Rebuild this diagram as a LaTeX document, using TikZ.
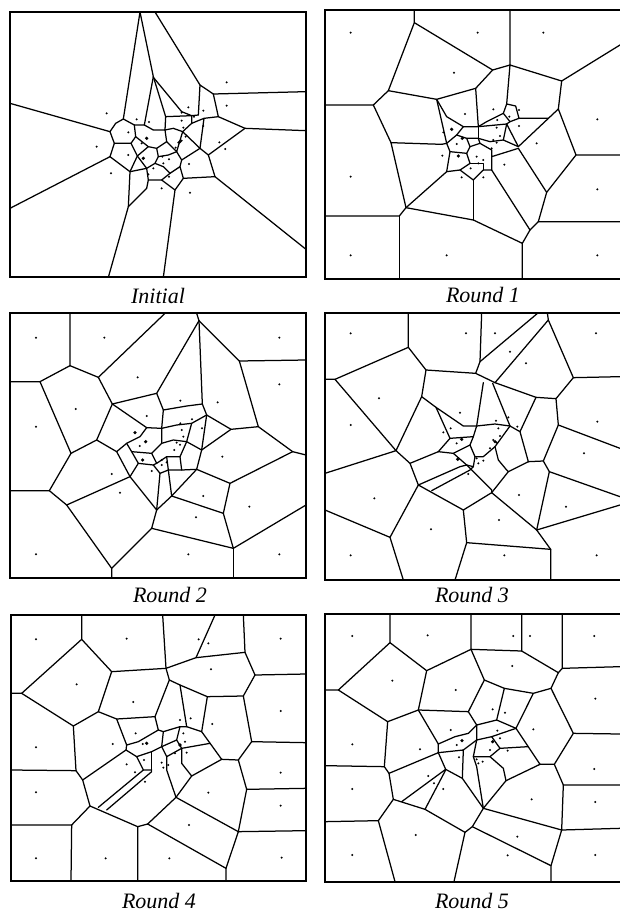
\documentclass[tikz,border=0pt]{standalone}
\usepackage{fontspec}
\setmainfont{Liberation Serif}
\begin{document}
\begin{tikzpicture}[x=1pt,y=-1pt,
  vedge/.style={line width=1.25pt, line join=round, line cap=round},
  vframe/.style={line width=2.3pt},
  vdot/.style={fill=black},
  captext/.style={font=\itshape\fontsize{22}{26}\selectfont, inner sep=0pt},
  vpanel/.style={x=0.333333pt, y=-0.333333pt}]
\useasboundingbox (0,0) rectangle (619,913);
\fill[white] (0,0) rectangle (619,913);

% ================= Panel 1 : Initial =================
\begin{scope}[shift={(0,0)}, vpanel]
\begin{scope}
\clip (30,36) rectangle (918,832);
\draw[vedge] (30,310)--(330,395);
\draw[vedge] (30,625)--(330,470);
\draw[vedge] (420,36)--(370,357);
\draw[vedge] (420,36)--(460,230);
\draw[vedge] (465,36)--(600,255)--(640,282)--(918,275);
\draw[vedge] (640,282)--(655,350)--(735,385)--(918,392);
\draw[vedge] (735,385)--(625,465)--(645,530)--(918,748);
\draw[vedge] (645,530)--(550,535)--(525,570)--(490,832);
\draw[vedge] (600,255)--(595,345);
\draw[vedge] (655,350)--(612,355);
\draw[vedge] (330,470)--(390,515)--(385,620)--(325,832);
\draw[vedge] (385,620)--(440,565);
\draw[vedge] (330,395)--(347,370)--(370,357)--(403,375)--(407,410)--(393,430)--(343,430)--(330,395);
\draw[vedge] (343,430)--(330,470);
\draw[vedge] (393,430)--(412,468)--(390,515);
\draw[vedge] (403,375)--(433,375)--(460,230);
\draw[vedge] (460,230)--(497,350)--(575,347)--(595,345);
\draw[vedge] (460,232)--(545,335)--(575,347);
\draw[vedge] (433,375)--(460,390)--(495,390)--(497,350);
\draw[vedge] (495,390)--(520,385)--(548,395)--(575,370)--(575,347);
\draw[vedge] (575,370)--(612,355)--(600,445)--(625,465);
\draw[vedge] (548,395)--(600,445);
\draw[vedge] (407,410)--(445,440)--(470,445)--(500,425)--(495,390);
\draw[vedge] (500,425)--(530,455)--(548,395);
\draw[vedge] (530,455)--(545,480)--(540,500)--(550,535);
\draw[vedge] (545,480)--(600,445);
\draw[vedge] (470,445)--(475,470)--(505,465)--(530,455);
\draw[vedge] (475,470)--(465,490)--(440,505)--(412,468);
\draw[vedge] (412,468)--(445,440);
\draw[vedge] (390,515)--(440,505)--(445,540)--(440,565);
\draw[vedge] (445,540)--(485,540)--(510,520)--(540,500);
\draw[vedge] (465,490)--(490,500)--(510,520);
\draw[vedge] (485,540)--(525,570);
\end{scope}
\draw[vframe] (30,36) rectangle (918,832);
\foreach \p in {(680,247),(680,317),(320,340),(290,440),(333,520),(485,565),(570,578),(658,427),(676,447),(565,322),(545,338),(610,332),(610,378),(545,362),(550,383),(410,358),(447,366),(385,397),(425,430),(385,465),(487,470),(507,478),(490,490),(445,523),(460,505),(507,530),(567,492),(527,443),(557,410),(582,350),(535,428),(545,422)}
  \fill[vdot] \p circle (1.1pt);
\foreach \p in {(440,415),(430,475),(540,425)}
  \fill[vdot] \p circle (1.8pt);
\end{scope}

% ================= Panel 2 : Round 1 =================
\begin{scope}[shift={(310,0)}, vpanel]
\begin{scope}
\clip (45,30) rectangle (930,838);
\draw[vedge] (313,30)--(313,68)--(235,272)--(190,315)--(45,315);
\draw[vedge] (313,68)--(548,210)--(600,195)--(600,30);
\draw[vedge] (600,195)--(755,243)--(930,135);
\draw[vedge] (755,243)--(745,327)--(798,465)--(930,465);
\draw[vedge] (798,465)--(710,577)--(685,665)--(930,665);
\draw[vedge] (685,665)--(660,690)--(637,730)--(637,838);
\draw[vedge] (637,730)--(490,660)--(288,623)--(268,648)--(45,648);
\draw[vedge] (268,648)--(268,838);
\draw[vedge] (288,623)--(243,428)--(190,315);
\draw[vedge] (235,272)--(380,298)--(497,265)--(548,210);
\draw[vedge] (243,428)--(395,433);
\draw[vedge] (288,623)--(410,515);
\draw[vedge] (490,660)--(490,540);
\draw[vedge] (660,690)--(545,510);
\draw[vedge] (710,577)--(625,445);
\draw[vedge] (745,327)--(625,440);
\draw[vedge] (380,298)--(410,350)--(460,380);
\draw[vedge] (380,298)--(410,430);
\draw[vedge] (497,265)--(505,380);
\draw[vedge] (600,195)--(590,312)--(617,318)--(627,355)--(715,355);
\draw[vedge] (590,312)--(580,340)--(600,365)--(627,355);
\draw[vedge] (460,380)--(505,380)--(530,365)--(580,340);
\draw[vedge] (505,380)--(590,372)--(600,365);
\draw[vedge] (590,372)--(625,440);
\draw[vedge] (395,433)--(410,430)--(420,455)--(410,515);
\draw[vedge] (410,430)--(440,405)--(460,380);
\draw[vedge] (440,405)--(470,415)--(505,415)--(540,425)--(580,420)--(625,440);
\draw[vedge] (505,415)--(505,380);
\draw[vedge] (580,420)--(590,372);
\draw[vedge] (420,455)--(470,460)--(480,440)--(470,415);
\draw[vedge] (480,440)--(510,430)--(505,415);
\draw[vedge] (510,430)--(545,450)--(545,470)--(625,445);
\draw[vedge] (545,470)--(545,510)--(520,510)--(490,540)--(450,510)--(410,515);
\draw[vedge] (470,460)--(480,490)--(450,510);
\draw[vedge] (480,490)--(520,490)--(520,510);
\end{scope}
\draw[vframe] (930,30)--(45,30)--(45,838)--(930,838);
\foreach \p in {(122,98),(503,98),(700,98),(432,218),(862,358),(122,530),(862,568),(122,766),(410,766),(862,766),(550,328),(627,330),(598,350),(562,360),(627,378),(560,383),(570,408),(465,342),(400,397),(440,432),(545,445),(397,467),(500,470),(520,480),(505,490),(482,505),(455,532),(520,532),(583,494),(680,430),(550,420),(560,428)}
  \fill[vdot] \p circle (1.1pt);
\foreach \p in {(425,388),(457,415),(445,468)}
  \fill[vdot] \p circle (1.8pt);
\end{scope}

% ================= Panel 3 : Round 2 =================
\begin{scope}[shift={(0,300)}, vpanel]
\begin{scope}
\clip (30,40) rectangle (918,833);
\draw[vedge] (210,40)--(210,197)--(120,245)--(30,245);
\draw[vedge] (120,245)--(213,460)--(148,572)--(30,572);
\draw[vedge] (210,197)--(295,232)--(495,40);
\draw[vedge] (295,232)--(337,312)--(290,420)--(213,460);
\draw[vedge] (590,40)--(597,62)--(470,280)--(337,312);
\draw[vedge] (597,62)--(718,183)--(918,180);
\draw[vedge] (718,183)--(775,380)--(878,455)--(918,465);
\draw[vedge] (775,380)--(693,388)--(620,345)--(607,312)--(597,62);
\draw[vedge] (620,345)--(605,450)--(590,508)--(690,550)--(878,455);
\draw[vedge] (693,388)--(605,450);
\draw[vedge] (690,550)--(670,640)--(700,745)--(918,615);
\draw[vedge] (700,745)--(700,833);
\draw[vedge] (590,508)--(515,588)--(670,640);
\draw[vedge] (700,745)--(455,685)--(470,630)--(515,588);
\draw[vedge] (455,685)--(335,805)--(335,833);
\draw[vedge] (335,805)--(200,615)--(148,572);
\draw[vedge] (200,615)--(390,530)--(470,630);
\draw[vedge] (290,420)--(350,455)--(390,530);
\draw[vedge] (470,280)--(490,330)--(560,318)--(607,312);
\draw[vedge] (337,312)--(440,383)--(485,385)--(490,330);
\draw[vedge] (440,383)--(420,410)--(380,430)--(350,455);
\draw[vedge] (380,430)--(395,455)--(455,460)--(485,430)--(485,385);
\draw[vedge] (485,430)--(520,420)--(560,425)--(605,450);
\draw[vedge] (485,385)--(530,375)--(575,370)--(620,345);
\draw[vedge] (575,370)--(560,425);
\draw[vedge] (395,455)--(415,490)--(390,530);
\draw[vedge] (415,490)--(460,495)--(470,490)--(455,460);
\draw[vedge] (470,490)--(500,470)--(540,470)--(560,425);
\draw[vedge] (540,470)--(545,510)--(590,508);
\draw[vedge] (500,470)--(505,510)--(545,510);
\draw[vedge] (505,510)--(515,588);
\draw[vedge] (460,495)--(480,520)--(505,510);
\draw[vedge] (480,520)--(470,630);
\end{scope}
\draw[vframe] (30,40) rectangle (918,833);
\foreach \p in {(108,113),(313,113),(838,113),(413,232),(838,253),(227,327),(108,380),(541,302),(653,307),(440,348),(541,370),(576,358),(606,385),(545,390),(550,410),(419,438),(523,450),(485,480),(500,487),(485,495),(455,513),(335,522),(360,578),(667,470),(610,588),(748,620),(588,652),(108,763),(565,763),(838,763),(530,428),(540,434)}
  \fill[vdot] \p circle (1.1pt);
\foreach \p in {(405,398),(437,425),(428,480)}
  \fill[vdot] \p circle (1.8pt);
\end{scope}

% ================= Panel 4 : Round 3 =================
\begin{scope}[shift={(310,300)}, vpanel]
\begin{scope}
\clip (45,38) rectangle (930,840);
\draw[vedge] (295,38)--(295,142)--(75,238)--(45,238);
\draw[vedge] (75,238)--(258,452)--(45,520);
\draw[vedge] (295,142)--(348,210)--(497,220)--(510,185)--(515,38);
\draw[vedge] (510,185)--(685,38);
\draw[vedge] (712,38)--(715,60)--(790,233)--(930,230);
\draw[vedge] (715,60)--(555,248)--(678,292)--(738,296)--(790,233);
\draw[vedge] (497,220)--(555,248);
\draw[vedge] (738,296)--(745,375)--(930,445);
\draw[vedge] (745,375)--(700,483)--(655,485);
\draw[vedge] (700,483)--(718,515)--(930,590);
\draw[vedge] (718,515)--(680,690)--(930,615);
\draw[vedge] (680,690)--(722,748)--(722,840);
\draw[vedge] (722,748)--(470,728)--(460,630)--(545,578)--(680,690);
\draw[vedge] (470,728)--(435,840);
\draw[vedge] (460,630)--(325,555)--(240,712)--(45,630);
\draw[vedge] (240,712)--(280,840);
\draw[vedge] (325,555)--(300,490)--(258,452)--(335,290)--(348,210);
\draw[vedge] (545,578)--(595,515)--(655,485);
\draw[vedge] (520,248)--(500,378);
\draw[vedge] (548,250)--(600,378);
\draw[vedge] (335,290)--(378,322)--(460,378)--(500,378)--(555,372)--(600,378)--(630,395)--(678,292);
\draw[vedge] (630,395)--(655,485);
\draw[vedge] (378,322)--(420,415)--(385,455)--(300,490);
\draw[vedge] (420,415)--(490,410)--(500,378);
\draw[vedge] (490,410)--(480,435)--(430,460)--(385,455);
\draw[vedge] (480,435)--(495,470)--(520,470)--(555,440)--(600,378);
\draw[vedge] (555,440)--(565,480)--(590,510)--(595,515);
\draw[vedge] (430,460)--(470,495)--(545,570)--(545,578);
\draw[vedge] (495,470)--(490,500)--(470,495);
\draw[vedge] (325,555)--(450,500)--(470,495);
\draw[vedge] (365,572)--(480,510)--(490,500);
\end{scope}
\draw[vframe] (930,38)--(45,38)--(45,840)--(930,840);
\foreach \p in {(122,100),(468,100),(555,100),(858,100),(600,155),(648,190),(207,295),(122,375),(862,365),(450,338),(558,362),(595,352),(622,380),(565,385),(570,408),(422,385),(400,397),(440,430),(540,445),(500,475),(520,482),(505,490),(475,522),(822,460),(193,595),(627,585),(768,620),(363,688),(567,660),(122,766),(583,766),(860,766),(550,420),(560,428)}
  \fill[vdot] \p circle (1.1pt);
\foreach \p in {(455,418),(443,478),(555,425)}
  \fill[vdot] \p circle (1.8pt);
\end{scope}

% ================= Panel 5 : Round 4 =================
\begin{scope}[shift={(0,600)}, vpanel]
\begin{scope}
\clip (33,45) rectangle (918,842);
\draw[vedge] (245,45)--(245,118)--(65,280)--(33,280);
\draw[vedge] (65,280)--(220,378)--(228,512)--(33,510);
\draw[vedge] (245,118)--(335,215)--(498,205)--(488,45);
\draw[vedge] (498,205)--(588,173)--(645,45);
\draw[vedge] (588,173)--(735,157)--(730,45);
\draw[vedge] (735,157)--(765,225)--(918,222);
\draw[vedge] (765,225)--(730,288)--(622,290)--(540,255)--(508,240)--(498,205);
\draw[vedge] (730,288)--(755,425)--(918,428);
\draw[vedge] (755,425)--(715,480)--(665,478);
\draw[vedge] (715,480)--(740,568)--(918,565);
\draw[vedge] (740,568)--(715,695)--(918,692);
\draw[vedge] (715,695)--(678,805)--(678,842);
\draw[vedge] (678,805)--(443,672)--(413,680)--(413,842);
\draw[vedge] (413,680)--(270,618)--(215,675)--(33,675);
\draw[vedge] (215,675)--(213,842);
\draw[vedge] (270,618)--(248,540)--(228,512);
\draw[vedge] (220,378)--(295,335)--(335,215);
\draw[vedge] (295,335)--(350,357)--(465,350)--(508,240);
\draw[vedge] (540,255)--(560,380);
\draw[vedge] (622,290)--(605,395)--(665,478);
\draw[vedge] (443,672)--(528,592)--(715,695);
\draw[vedge] (528,592)--(575,528)--(665,478);
\draw[vedge] (248,540)--(378,450);
\draw[vedge] (295,622)--(430,510);
\draw[vedge] (320,630)--(455,515);
\draw[vedge] (350,357)--(380,435);
\draw[vedge] (465,350)--(475,390)--(490,395)--(540,380)--(560,380)--(605,395);
\draw[vedge] (380,435)--(415,425)--(475,390);
\draw[vedge] (380,435)--(378,450)--(410,470);
\draw[vedge] (410,470)--(455,455)--(485,440)--(490,395);
\draw[vedge] (455,455)--(455,515);
\draw[vedge] (410,470)--(430,510)--(455,510);
\draw[vedge] (485,440)--(500,470)--(500,510)--(528,592);
\draw[vedge] (500,470)--(545,445)--(630,430);
\draw[vedge] (545,445)--(545,490)--(575,528);
\draw[vedge] (540,380)--(530,420)--(545,445);
\draw[vedge] (530,420)--(485,440);
\end{scope}
\draw[vframe] (33,45) rectangle (918,842);
\foreach \p in {(108,118),(380,116),(596,118),(625,130),(842,116),(633,208),(230,253),(400,306),(842,333),(108,442),(540,360),(572,355),(637,372),(407,400),(338,432),(550,400),(555,425),(428,432),(525,460),(560,458),(432,480),(485,488),(505,495),(490,503),(380,493),(405,517),(435,545),(625,578),(108,577),(842,518),(842,617),(567,675),(108,775),(317,775),(508,775),(845,773)}
  \fill[vdot] \p circle (1.1pt);
\foreach \p in {(440,430),(540,435)}
  \fill[vdot] \p circle (1.8pt);
\end{scope}

% ================= Panel 6 : Round 5 =================
\begin{scope}[shift={(310,600)}, vpanel]
\begin{scope}
\clip (45,42) rectangle (930,845);
\draw[vedge] (240,42)--(240,128)--(85,270)--(45,270);
\draw[vedge] (85,270)--(233,365)--(223,500)--(45,497);
\draw[vedge] (240,128)--(350,212)--(483,148)--(483,42);
\draw[vedge] (483,148)--(635,153)--(635,42);
\draw[vedge] (635,153)--(745,218)--(757,205)--(757,42);
\draw[vedge] (757,205)--(930,200);
\draw[vedge] (745,218)--(723,265)--(670,280)--(583,265)--(523,240)--(483,148);
\draw[vedge] (723,265)--(790,400)--(930,402);
\draw[vedge] (790,400)--(733,493)--(690,493);
\draw[vedge] (733,493)--(760,555)--(930,555);
\draw[vedge] (760,555)--(755,690)--(930,685);
\draw[vedge] (755,690)--(723,797)--(723,845);
\draw[vedge] (723,797)--(487,680)--(465,697)--(432,845);
\draw[vedge] (465,697)--(345,628)--(250,598)--(205,662)--(45,665);
\draw[vedge] (205,662)--(255,845);
\draw[vedge] (250,598)--(237,520)--(223,500);
\draw[vedge] (233,365)--(325,330)--(350,212);
\draw[vedge] (325,330)--(475,335)--(523,240);
\draw[vedge] (583,265)--(560,360);
\draw[vedge] (670,280)--(618,385)--(690,493);
\draw[vedge] (487,680)--(520,625)--(755,690);
\draw[vedge] (520,625)--(588,542)--(690,493);
\draw[vedge] (237,520)--(385,458);
\draw[vedge] (275,605)--(407,508);
\draw[vedge] (345,628)--(407,510);
\draw[vedge] (407,508)--(457,535)--(520,625);
\draw[vedge] (325,330)--(385,432);
\draw[vedge] (385,432)--(435,410)--(475,400)--(500,375)--(475,335);
\draw[vedge] (500,375)--(560,360)--(618,385);
\draw[vedge] (385,432)--(385,458)--(407,508);
\draw[vedge] (385,458)--(460,450)--(457,535);
\draw[vedge] (460,450)--(500,420)--(500,375);
\draw[vedge] (500,420)--(545,410)--(618,385);
\draw[vedge] (500,420)--(490,470)--(540,470)--(580,505)--(588,542);
\draw[vedge] (540,470)--(570,445)--(654,440);
\draw[vedge] (570,445)--(545,410);
\draw[vedge] (490,470)--(500,500)--(520,625);
\end{scope}
\draw[vframe] (930,42)--(45,42)--(45,845)--(930,845);
\foreach \p in {(127,108),(353,106),(610,108),(660,108),(853,108),(607,198),(247,242),(437,270),(856,296),(670,388),(548,328),(585,338),(422,390),(562,392),(570,415),(440,435),(540,450),(593,452),(330,448),(127,433),(447,472),(500,478),(518,485),(505,490),(355,528),(372,550),(400,567),(665,598),(853,507),(856,606),(127,567),(317,705),(622,710),(593,766),(127,765),(856,765)}
  \fill[vdot] \p circle (1.1pt);
\foreach \p in {(456,422),(548,425)}
  \fill[vdot] \p circle (1.8pt);
\end{scope}

% ================= Captions =================
\node[captext, anchor=base] (c0) at (158,303) {Initial};
\node[captext, anchor=base] (c1) at (483,302) {Round 1};
\node[captext, anchor=base] (c2) at (170,602) {Round 2};
\node[captext, anchor=base] (c3) at (472,602) {Round 3};
\node[captext, anchor=base] (c4) at (159,908) {Round 4};
\node[captext, anchor=base] (c5) at (472,908) {Round 5};
\end{tikzpicture}
\end{document}
